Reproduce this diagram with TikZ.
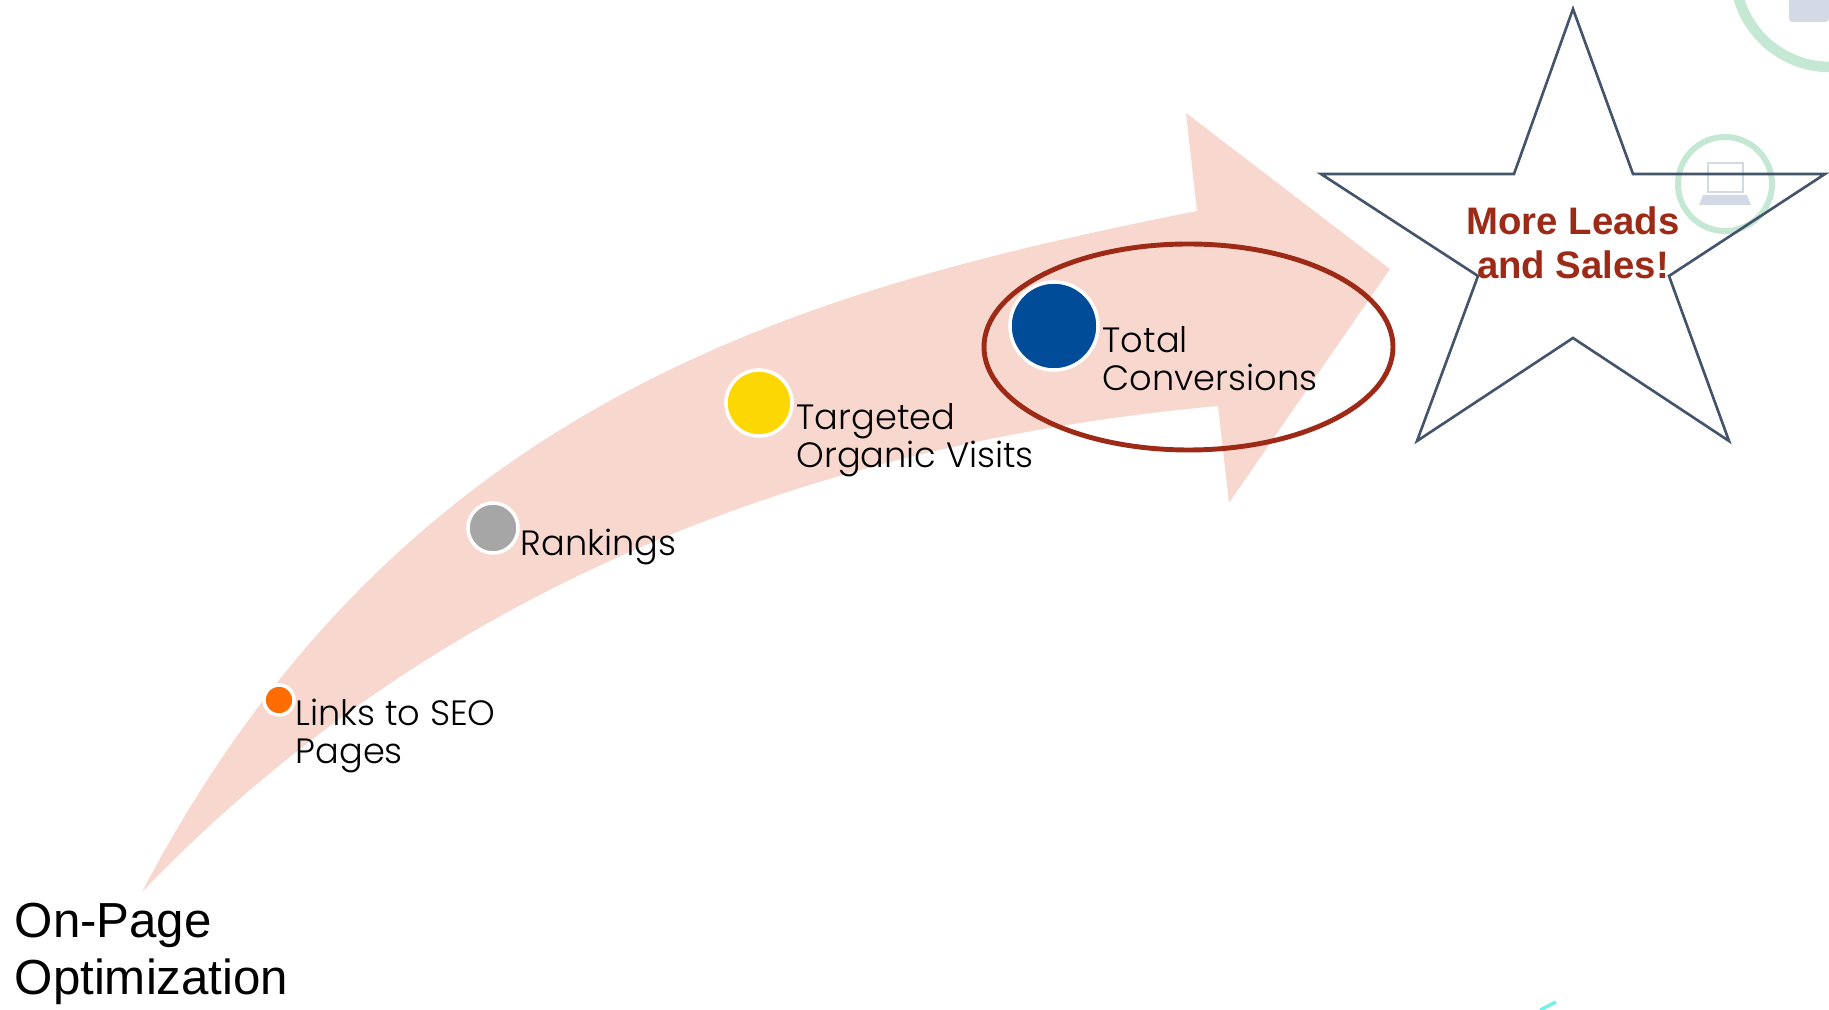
\documentclass[tikz,border=0pt]{standalone}
\usepackage{fontspec}
\setmainfont{Liberation Sans}
\newfontfamily\labelfont{Poppins Light}
\usetikzlibrary{shapes.geometric}
\usetikzlibrary{positioning}
\definecolor{arrowpink}{HTML}{F8D8CE}
\definecolor{rustred}{HTML}{9C2A17}
\definecolor{starblue}{HTML}{44546A}
\definecolor{ringgreen}{HTML}{C4E8D4}
\definecolor{icongrey}{HTML}{D3DAE5}
\tikzset{
dot/.style={circle, draw=white, line width=1pt, inner sep=0pt},
steplabel/.style={anchor=north west, align=left, inner sep=0pt, font=\labelfont\fontsize{10}{10.8}\selectfont},
}
\begin{document}
\begin{tikzpicture}[x=0.01cm, y=-0.01cm]
\useasboundingbox (0,0) rectangle (1829,1010);
% faded icons behind the star
\draw[ringgreen, line width=1.7pt] (1725,184) circle (47);
\draw[ringgreen, line width=3pt] (1830,-28) circle (95);
\draw[icongrey, line width=0.8pt] (1708,163) rectangle (1743,192);
\fill[icongrey] (1703,195) -- (1747,195) -- (1751,205) -- (1699,205) -- cycle;
\fill[icongrey, rounded corners=1pt] (1789,-5) rectangle (1829,22);
\draw[ringgreen!60!cyan, line width=1pt] (1540,1010) -- (1556,1002);
% big arrow
\fill[arrowpink] (142,892) .. controls (400,400) and (800,290) .. (1197,211)
-- (1186,113) -- (1390,269) -- (1229,503) -- (1218,406)
.. controls (900,435) and (480,540) .. (142,892) -- cycle;
% dots
\node[dot, fill=orange!85!red, minimum size=0.3cm] (links) at (279,700) {};
\node[dot, fill=gray!70, minimum size=0.5cm] (rankings) at (493,528) {};
\node[dot, fill=yellow!75!orange, minimum size=0.66cm] (visits) at (759,403) {};
\node[dot, fill=blue!50!cyan!60!black, minimum size=0.88cm] (conversions) at (1054,326) {};
% labels
\node[steplabel] (linkstext) at (295,698) {Links to SEO\\Pages};
\node[steplabel] (rankingstext) at (520,528) {Rankings};
\node[steplabel] (visitstext) at (796,403) {Targeted\\Organic Visits};
\node[steplabel] (conversionstext) at (1102,326) {Total\\Conversions};
\node[anchor=north west, align=left, inner sep=0pt, font=\fontsize{14}{16.3}\selectfont] (start) at (14,902) {On-Page\\Optimization};
% goal
\draw[rustred, line width=1.4pt] (1188.5,347) ellipse (204.5 and 103);
\draw[starblue, line width=0.75pt] (1573,9) -- (1633,174) -- (1825,174) -- (1669,276) -- (1729,441)
-- (1573,338) -- (1417,441) -- (1478,276) -- (1321,174) -- (1514,174) -- cycle;
\node[align=center, inner sep=0pt, text=rustred, font=\bfseries\fontsize{10.9}{12.6}\selectfont] (goal) at (1573,243) {More Leads\\and Sales!};
\end{tikzpicture}
\end{document}
